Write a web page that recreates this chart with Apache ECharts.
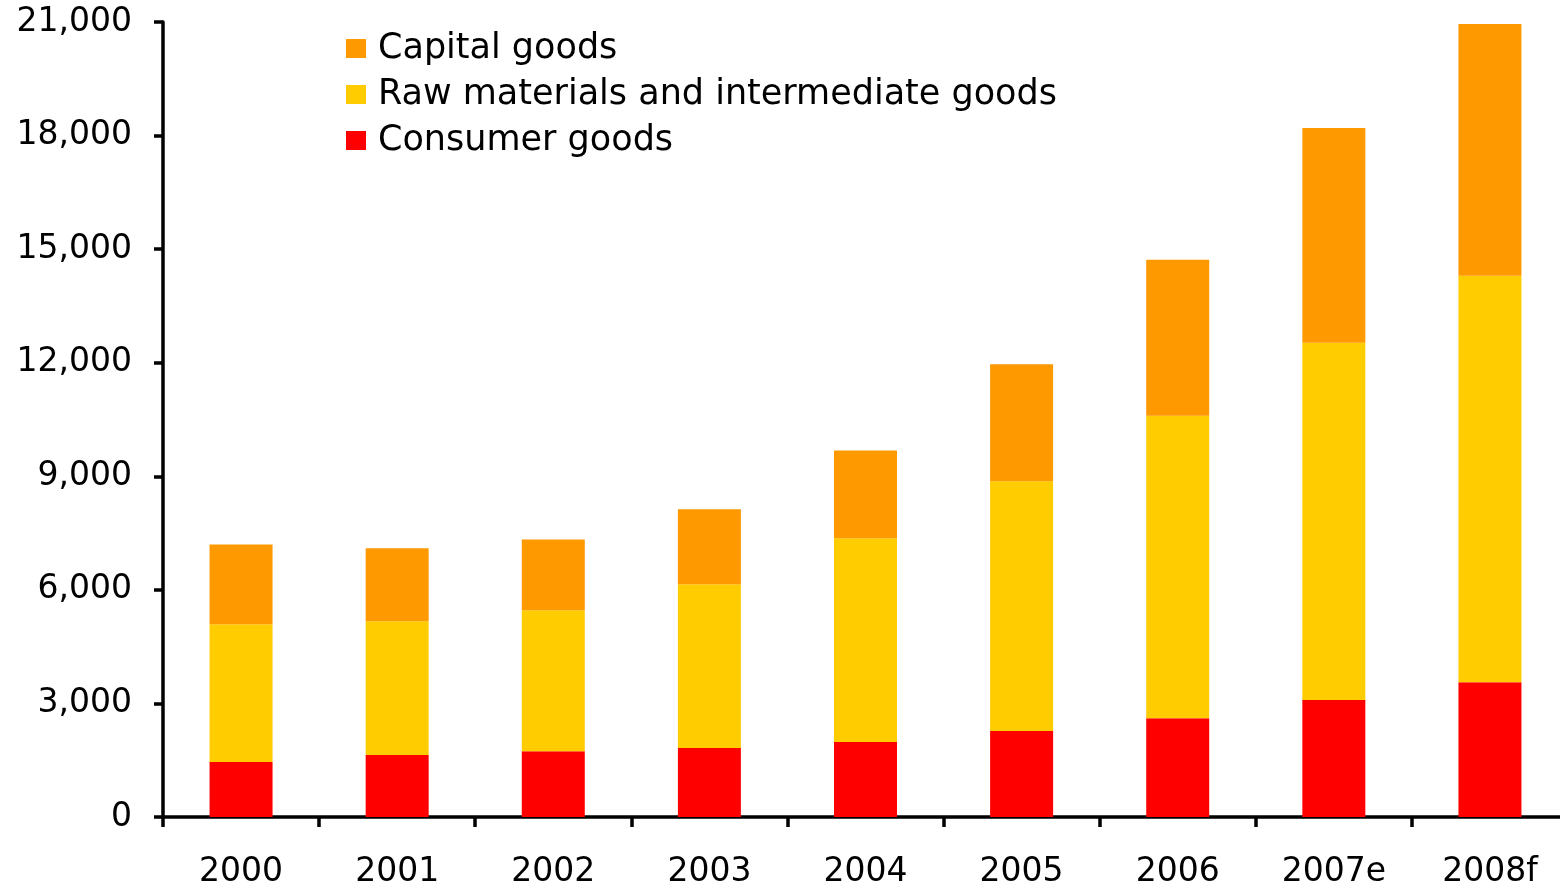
<!DOCTYPE html>
<html>
<head>
<meta charset="utf-8">
<script src="https://cdn.jsdelivr.net/npm/echarts@6/dist/echarts.min.js"></script>
<style>
  html, body { margin: 0; padding: 0; background: #fff; }
  #chart { width: 1560px; height: 888px; }
</style>
</head>
<body>
<div id="chart"></div>
<script>
var years = ['2000', '2001', '2002', '2003', '2004', '2005', '2006', '2007e', '2008f'];
var consumerGoods = [1450, 1640, 1740, 1820, 1980, 2270, 2610, 3090, 3560];
var rawMaterials = [3640, 3530, 3720, 4330, 5380, 6600, 7990, 9440, 10740];
var capitalGoods = [2110, 1930, 1870, 1980, 2320, 3090, 4120, 5670, 6650];
var yTicks = [0, 3000, 6000, 9000, 12000, 15000, 18000, 21000];

var font = 'DejaVu Sans';
var chart = echarts.init(document.getElementById('chart'));

chart.setOption({
  animation: false,
  grid: { left: 163, right: -8, top: 22, bottom: 71, containLabel: false, outerBoundsMode: 'none' },
  // legend top left inside the plot
  legend: {
    orient: 'vertical',
    left: 341,
    top: 26,
    icon: 'rect',
    itemWidth: 20,
    itemHeight: 19,
    itemGap: 11,
    data: ['Capital goods', 'Raw materials and intermediate goods', 'Consumer goods'],
    formatter: function (name) { return '\u2009' + name; },
    textStyle: { fontFamily: font, fontSize: 35, color: '#000' }
  },
  xAxis: {
    type: 'category',
    data: years,
    axisLine: { lineStyle: { color: '#000', width: 3.5 } },
    axisTick: { show: true, length: 10, lineStyle: { color: '#000', width: 3.5 } },
    axisLabel: { fontFamily: font, fontSize: 33, color: '#000', margin: 39 }
  },
  yAxis: {
    type: 'value',
    min: yTicks[0],
    max: yTicks[yTicks.length - 1],
    interval: 3000,
    splitLine: { show: false },
    axisLine: { show: true, lineStyle: { color: '#000', width: 3.5 } },
    axisTick: { show: true, length: 9, lineStyle: { color: '#000', width: 3.5 } },
    axisLabel: {
      fontFamily: font, fontSize: 33, color: '#000', margin: 31,
      formatter: function (v) { return v.toLocaleString('en-US'); }
    }
  },
  series: [
    { name: 'Consumer goods', type: 'bar', stack: 'total', barWidth: 63, data: consumerGoods, itemStyle: { color: '#FF0000' } },
    { name: 'Raw materials and intermediate goods', type: 'bar', stack: 'total', data: rawMaterials, itemStyle: { color: '#FFCC00' } },
    { name: 'Capital goods', type: 'bar', stack: 'total', data: capitalGoods, itemStyle: { color: '#FF9900' } }
  ]
});
</script>
</body>
</html>
